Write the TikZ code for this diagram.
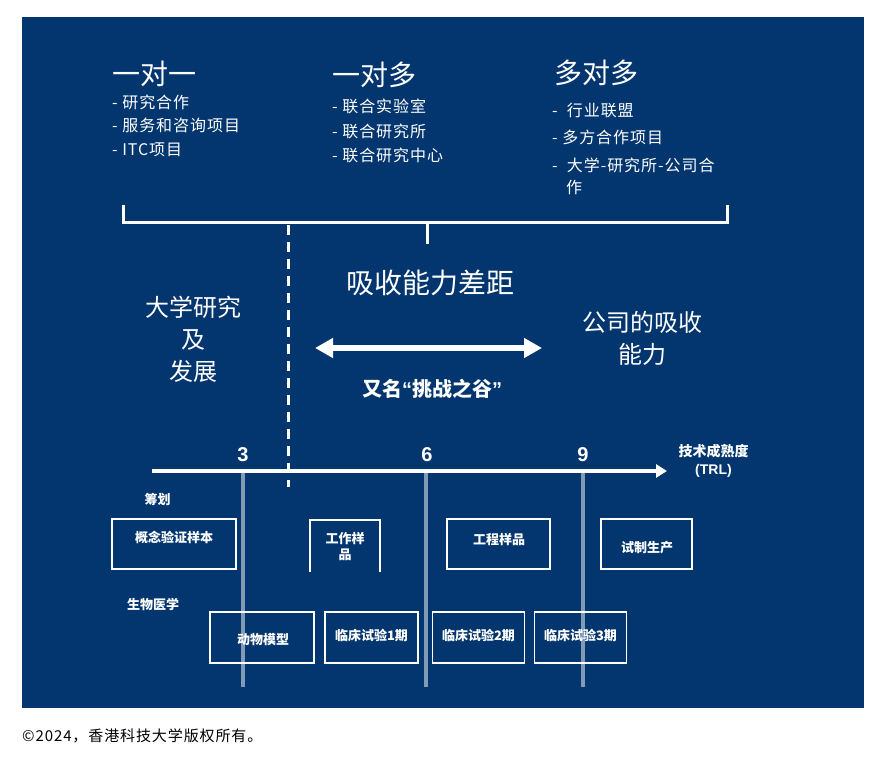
\documentclass[tikz,border=0pt]{standalone}
\usepackage{fontspec}
\setmainfont{Noto Sans CJK SC}
\newfontfamily\lat{Liberation Sans}
\newfontfamily\spaced[LetterSpace=6]{Noto Sans CJK SC}
\usetikzlibrary{arrows.meta}
\definecolor{panel}{HTML}{03366E}
\begin{document}
\begin{tikzpicture}[x=1pt,y=-1pt,
  every node/.style={inner sep=0pt,text=white},
  hdr/.style={anchor=west,font=\fontsize{28}{32}\selectfont},
  item/.style={anchor=west,font=\spaced\fontsize{16}{22}\selectfont},
  big/.style={align=center,font=\fontsize{24}{32}\selectfont},
  lbl/.style={align=center,font=\bfseries\fontsize{13}{16}\selectfont},
  num/.style={font=\lat\bfseries\fontsize{20}{22}\selectfont},
  box/.style={draw=white,line width=1.5pt},
  wline/.style={draw=white,line width=3pt},
  tline/.style={draw=white,draw opacity=0.5,line width=4.5pt}]
\useasboundingbox (0,0) rectangle (881,759);
\fill[white] (0,0) rectangle (881,759);
\fill[panel] (22,17) rectangle (864,708);

% headers
\node[hdr] (h1) at (112,74) {一对一};
\node[hdr] (h2) at (332,75) {一对多};
\node[hdr] (h3) at (554,72.5) {多对多};
\node[item] (i11) at (112,102.5) {- 研究合作};
\node[item] (i12) at (112,125.5) {- 服务和咨询项目};
\node[item] (i13) at (112,149.5) {- ITC项目};
\node[item] (i21) at (332,106) {- 联合实验室};
\node[item] (i22) at (332,131) {- 联合研究所};
\node[item] (i23) at (332,155) {- 联合研究中心};
\node[item] (i31) at (552,110) {-\ \ 行业联盟};
\node[item] (i32) at (552,137) {- 多方合作项目};
\node[item] (i33) at (552,165) {-\ \ 大学-研究所-公司合};
\node[item] (i34) at (566,187) {作};

% bracket
\coordinate (bl) at (123,205);
\coordinate (blc) at (123,223);
\coordinate (brc) at (727,223);
\coordinate (br) at (727,205);
\coordinate (bm) at (427,223);
\coordinate (bmd) at (427,244);
\draw[wline] (bl) -- (blc) -- (brc) -- (br);
\draw[wline] (bm) -- (bmd);

% dashed divider
\coordinate (d0) at (288,225);
\coordinate (d1) at (288,487);
\draw[wline,dash pattern=on 10pt off 7pt] (d0) -- (d1);

% middle texts
\node[font=\fontsize{28}{32}\selectfont] (gap) at (430,283) {吸收能力差距};
\node[big] (uni) at (193,339) {大学研究\\及\\发展};
\node[big] (co) at (642,338) {公司的吸收\\能力};
\coordinate (al) at (315,348);
\coordinate (ar) at (542,348);
\draw[draw=white,line width=6pt,{Triangle[length=18pt,width=19pt]}-{Triangle[length=18pt,width=19pt]}] (al) -- (ar);
\node[font=\bfseries\fontsize{20}{22}\selectfont] (valley) at (432,389) {又名{\lat“}挑战之谷{\lat”}};

% TRL axis
\coordinate (ax0) at (152,471);
\coordinate (ax1) at (667,471);
\node[num] (n3) at (243,454.5) {3};
\node[num] (n6) at (427,454.5) {6};
\node[num] (n9) at (583,454.5) {9};
\node[lbl,font=\bfseries\fontsize{14}{18}\selectfont] (trl) at (713.5,460.5) {技术成熟度\\{\lat (TRL)}};

% boxes row 1
\node[lbl] (plan) at (157.5,500) {筹划};
\node[box,minimum width=124pt,minimum height=50pt] (b1) at (174,544) {};
\node[lbl] (b1t) at (174,537) {概念验证样本};
\coordinate (w1) at (310,572);
\coordinate (w2) at (310,520);
\coordinate (w3) at (380,520);
\coordinate (w4) at (380,572);
\draw[box] (w1) -- (w2) -- (w3) -- (w4);
\node[lbl] (b2t) at (345,547) {工作样\\品};
\node[box,minimum width=103pt,minimum height=50pt] (b3) at (498.5,544) {};
\node[lbl] (b3t) at (499,540) {工程样品};
\node[box,minimum width=91pt,minimum height=50pt] (b4) at (646.5,544) {};
\node[lbl] (b4t) at (647,548) {试制生产};

% boxes row 2
\node[lbl] (bio) at (153,604) {生物医学};
\node[box,minimum width=104pt,minimum height=51pt] (c1) at (262,637.5) {};
\node[lbl] (c1t) at (263,640) {动物模型};
\node[box,minimum width=93pt,minimum height=51pt] (c2) at (371.5,637.5) {};
\node[lbl] (c2t) at (371.5,635) {临床试验1期};
\node[box,minimum width=92pt,minimum height=51pt] (c3) at (478.5,637.5) {};
\node[lbl] (c3t) at (478.5,635) {临床试验2期};
\node[box,minimum width=92pt,minimum height=51pt] (c4) at (580.5,637.5) {};
\node[lbl] (c4t) at (580.5,635) {临床试验3期};

% TRL markers
\coordinate (t3a) at (243,471);
\coordinate (t3b) at (243,687);
\coordinate (t6a) at (426,471);
\coordinate (t6b) at (426,687);
\coordinate (t9a) at (583,471);
\coordinate (t9b) at (583,687);
\draw[tline] (t3a) -- (t3b);
\draw[tline] (t6a) -- (t6b);
\draw[tline] (t9a) -- (t9b);
\draw[draw=white,line width=4.5pt,-{Triangle[length=11pt,width=13pt]}] (ax0) -- (ax1);

% caption
\node[anchor=west,text=black,font=\spaced\fontsize{15}{18}\selectfont] (cap) at (22,736) {©2024，香港科技大学版权所有。};
\end{tikzpicture}
\end{document}
